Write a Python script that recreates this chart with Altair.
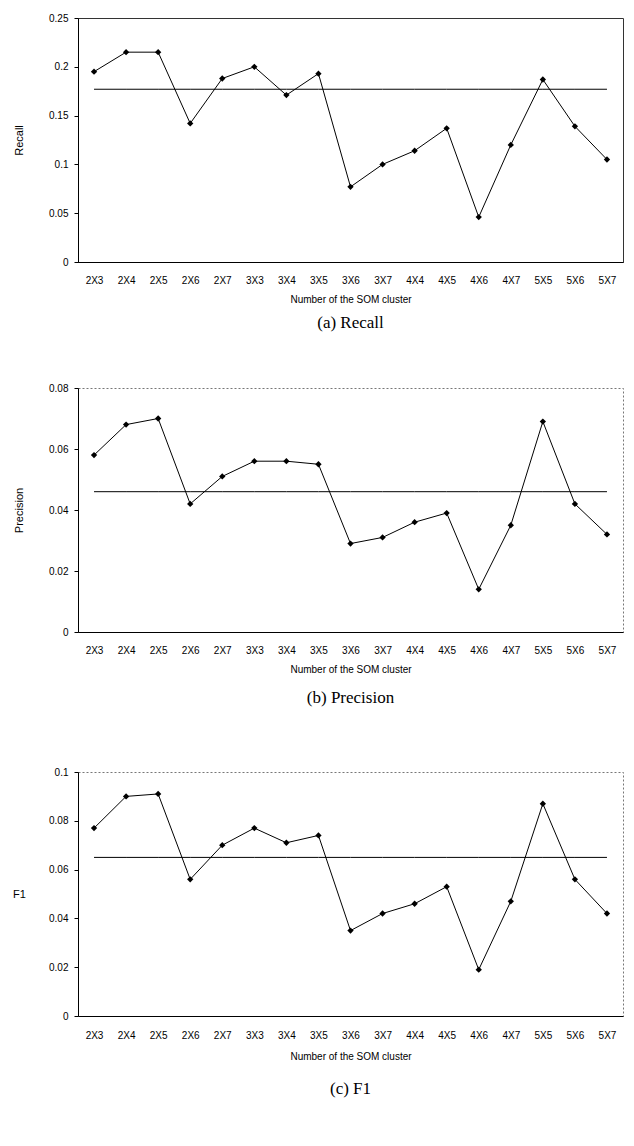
import altair as alt
import pandas as pd

clusters = ["2X3", "2X4", "2X5", "2X6", "2X7", "3X3", "3X4", "3X5", "3X6",
            "3X7", "4X4", "4X5", "4X6", "4X7", "5X5", "5X6", "5X7"]

recall = [0.195, 0.215, 0.215, 0.142, 0.188, 0.200, 0.171, 0.193, 0.077,
          0.100, 0.114, 0.137, 0.046, 0.120, 0.187, 0.139, 0.105]
precision = [0.058, 0.068, 0.070, 0.042, 0.051, 0.056, 0.056, 0.055, 0.029,
             0.031, 0.036, 0.039, 0.014, 0.035, 0.069, 0.042, 0.032]
f1 = [0.077, 0.090, 0.091, 0.056, 0.070, 0.077, 0.071, 0.074, 0.035,
      0.042, 0.046, 0.053, 0.019, 0.047, 0.087, 0.056, 0.042]

recall_ref = 0.177
precision_ref = 0.046
f1_ref = 0.065

recall_ticks = [0, 0.05, 0.1, 0.15, 0.2, 0.25]
precision_ticks = [0, 0.02, 0.04, 0.06, 0.08]
f1_ticks = [0, 0.02, 0.04, 0.06, 0.08, 0.1]

W = 545
H = 244
SANS = "Liberation Sans"


def panel(values, ref, ticks, ytitle, caption, h, title_angle, border,
          label_pad, title_pad, cap_offset):
    df = pd.DataFrame({"cluster": clusters, "value": values,
                       "ref": [ref] * len(clusters)})
    xenc = alt.X("cluster:N", sort=clusters,
                 scale=alt.Scale(type="point", padding=0.5),
                 axis=alt.Axis(title="Number of the SOM cluster", labelAngle=0,
                               ticks=False, labelPadding=label_pad, labelFont=SANS,
                               labelFontSize=10, labelColor="black",
                               titleFont=SANS, titleFontSize=10,
                               titleFontWeight="normal", titleColor="black",
                               titlePadding=title_pad, domainColor="black"))
    yaxis = alt.Axis(values=ticks, format="~g", grid=False, tickSize=4,
                     tickColor="black", domainColor="black", labelFont=SANS,
                     labelFontSize=10, labelColor="black", labelPadding=6,
                     title=ytitle, titleFont=SANS, titleFontSize=11,
                     titleFontWeight="normal", titleColor="black",
                     titleAngle=title_angle, titleX=-59, titleY=h / 2,
                     titleAlign="center", titleBaseline="middle")
    yscale = alt.Scale(domain=[0, ticks[-1]], nice=False)
    base = alt.Chart(df).encode(x=xenc)
    refl = base.mark_line(color="black", strokeWidth=1).encode(
        y=alt.Y("ref:Q", scale=yscale, axis=yaxis))
    line = base.mark_line(color="black", strokeWidth=1).encode(
        y=alt.Y("value:Q", scale=yscale, axis=yaxis))
    pts = base.mark_point(shape="diamond", filled=True, color="black",
                          size=40, opacity=1).encode(
        y=alt.Y("value:Q", scale=yscale, axis=yaxis))
    return alt.layer(refl, line, pts).properties(
        width=W, height=h,
        title=alt.TitleParams(caption, orient="bottom", font="Liberation Serif",
                              fontSize=17, fontWeight="normal", color="black",
                              offset=cap_offset),
        view=border)


solid = alt.ViewBackground(stroke="#333333", strokeWidth=1)
dotted = alt.ViewBackground(stroke="#777777", strokeWidth=1, strokeDash=[2, 2])

p1 = panel(recall, recall_ref, recall_ticks, "Recall", "(a) Recall", H, -90,
           solid, 13, 9, 11)
p2 = panel(precision, precision_ref, precision_ticks, "Precision",
           "(b) Precision", H, -90, dotted, 13, 9, 16)
p3 = panel(f1, f1_ref, f1_ticks, "F1", "(c) F1", H, 0, dotted, 14, 11, 20)

chart = alt.vconcat(alt.vconcat(p1, p2, spacing=50), p3, spacing=59).properties(
    padding={"left": 4, "top": 4, "right": 0, "bottom": 0},
    background="white",
).configure(font=SANS)

chart.save("out.html", embed_options={"renderer": "svg", "actions": False})
